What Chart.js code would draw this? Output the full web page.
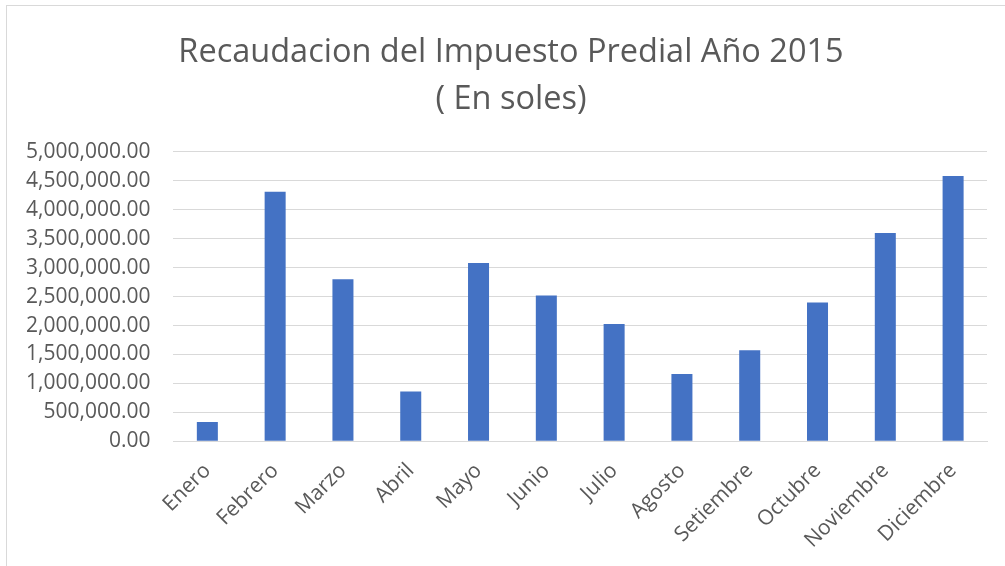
<!DOCTYPE html>
<html>
<head>
<meta charset="utf-8">
<script src="https://cdn.jsdelivr.net/npm/chart.js@4"></script>
<style>
  html, body { margin: 0; padding: 0; background: #fff; }
  #wrap { position: relative; width: 1005px; height: 566px; overflow: hidden; }
  #frame { position: absolute; left: 6px; top: 5px; width: 1100px; height: 700px; border: 1px solid #d9d9d9; box-sizing: border-box; }
  canvas { position: absolute; left: 0; top: 0; }
</style>
</head>
<body>
<div id="wrap">
  <div id="frame"></div>
  <canvas id="c" width="1005" height="566"></canvas>
</div>
<script>
const categories = ["Enero","Febrero","Marzo","Abril","Mayo","Junio","Julio","Agosto","Setiembre","Octubre","Noviembre","Diciembre"];
const recaudacion = [332000, 4313000, 2800000, 859000, 3081000, 2520000, 2027000, 1163000, 1575000, 2400000, 3600000, 4582000];
const titleLines = ["Recaudacion del Impuesto Predial Año 2015", "( En soles)"];
const yMin = 0, yMax = 5000000, yStep = 500000;

const fmt = v => Number(v).toLocaleString('en-US', {minimumFractionDigits: 2, maximumFractionDigits: 2});

// Shift the title block so it is centred like the original (slightly right of canvas centre)
const titleShift = {
  id: 'titleShift',
  afterLayout(chart) {
    const t = chart.titleBlock;
    if (t) { t.left += 32; }
  }
};

new Chart(document.getElementById('c'), {
  type: 'bar',
  data: {
    labels: categories,
    datasets: [{
      label: 'Recaudacion',
      data: recaudacion,
      backgroundColor: '#4472c4',
      borderWidth: 0,
      barPercentage: 0.31,
      categoryPercentage: 1.0
    }]
  },
  plugins: [titleShift],
  options: {
    responsive: false,
    animation: false,
    devicePixelRatio: 1,
    layout: { padding: { left: 3, right: 18, top: 29, bottom: -4 } },
    plugins: {
      legend: { display: false },
      tooltip: { enabled: false },
      title: {
        display: true,
        text: titleLines,
        color: '#595959',
        font: { family: 'Open Sans', size: 32.5, weight: 'normal', lineHeight: 1.46 },
        padding: { top: 0, bottom: 28 }
      }
    },
    scales: {
      x: {
        grid: { display: false, drawTicks: false },
        border: { display: true, color: '#d9d9d9' },
        ticks: {
          autoSkip: false,
          color: '#595959',
          font: { family: 'Open Sans', size: 21 },
          minRotation: 45, maxRotation: 45,
          padding: 17
        }
      },
      y: {
        min: yMin, max: yMax,
        grid: { color: '#d9d9d9', lineWidth: 1, drawTicks: false },
        border: { display: false },
        ticks: {
          autoSkip: false,
          stepSize: yStep,
          color: '#595959',
          font: { family: 'Open Sans', size: 21 },
          padding: 23,
          callback: v => fmt(v)
        }
      }
    }
  }
});
</script>
</body>
</html>
